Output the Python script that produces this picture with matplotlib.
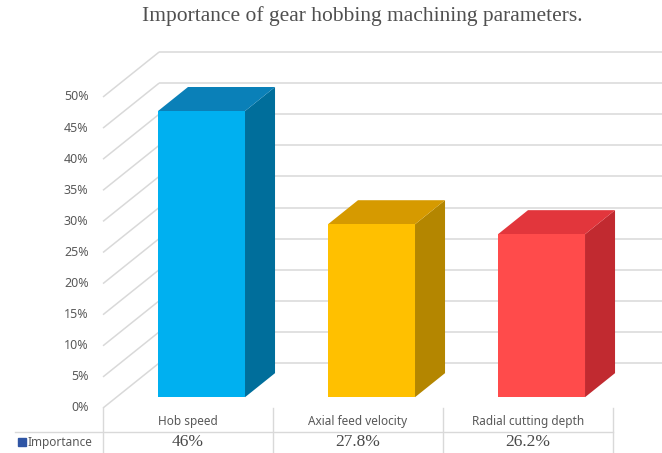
import matplotlib
matplotlib.use('Agg')
import matplotlib.pyplot as plt
from matplotlib.patches import Polygon

# ---------------- data ----------------
title = "Importance of gear hobbing machining parameters."
categories = ["Hob speed", "Axial feed velocity", "Radial cutting depth"]
importance = [46.0, 27.8, 26.2]
value_labels = ["46%", "27.8%", "26.2%"]
yticks = [0, 5, 10, 15, 20, 25, 30, 35, 40, 45, 50]
series_name = "Importance"

# ---------------- style ----------------
front_colors = ["#00B0F0", "#FFC000", "#FF4B4B"]
top_colors = ["#0A80B8", "#D69A00", "#E2363C"]
side_colors = ["#006E9B", "#B48600", "#C12A30"]
grid_color = "#D9D9D9"
text_gray = "#595959"

# pseudo-3D projection: depth d in [0, 1]
DX = 0.33   # horizontal shift of full depth (category units)
DY = 7.23   # vertical shift of full depth (percent units)


def P(x, v, d):
    return (x + DX * d, v + DY * d)


fig = plt.figure(figsize=(6.62, 4.53), dpi=100)
ax = fig.add_axes([0, 0, 1, 1])
ax.set_xlim(-1.106, 2.788)
ax.set_ylim(-7.235, 65.59)
ax.axis('off')

n = len(categories)
x_left = -0.5
x_right = n - 0.5

# walls gridlines
for v in yticks:
    a = P(x_left, v, 0)
    b = P(x_left, v, 1)
    c = P(x_right, v, 1)
    ax.plot([a[0], b[0]], [a[1], b[1]], color=grid_color, lw=1.1, zorder=1,
            solid_capstyle='butt')
    ax.plot([b[0], c[0]], [b[1], c[1]], color=grid_color, lw=1.1, zorder=1,
            solid_capstyle='butt')
    ax.text(x_left - 0.085, v, f"{v}%", ha='right', va='center',
            fontsize=9, color=text_gray, family='Noto Sans')

# bars
w = 0.512
d0, d1 = 0.24, 0.775
for i, v in enumerate(importance):
    cx = i
    l, r = cx - w / 2, cx + w / 2
    front = [P(l, 0, d0), P(r, 0, d0), P(r, v, d0), P(l, v, d0)]
    side = [P(r, 0, d0), P(r, 0, d1), P(r, v, d1), P(r, v, d0)]
    top = [P(l, v, d0), P(r, v, d0), P(r, v, d1), P(l, v, d1)]
    ax.add_patch(Polygon(side, closed=True, facecolor=side_colors[i],
                         edgecolor='none', zorder=3))
    ax.add_patch(Polygon(top, closed=True, facecolor=top_colors[i],
                         edgecolor='none', zorder=3))
    ax.add_patch(Polygon(front, closed=True, facecolor=front_colors[i],
                         edgecolor='none', zorder=4))

# data table
row1_y = -2.25
sep_y = -3.86
row2_y = -5.5
bottom = -7.3
for k in range(n + 1):
    xk = x_left + k
    ax.plot([xk, xk], [0, bottom], color=grid_color, lw=1.0, zorder=1)
ax.plot([-1.018, x_right], [sep_y, sep_y], color=grid_color, lw=1.0, zorder=1)

for i, (cat, lab) in enumerate(zip(categories, value_labels)):
    ax.text(i, row1_y, cat, ha='center', va='center', fontsize=8.5,
            color=text_gray, family='Noto Sans')
    ax.text(i, row2_y, lab, ha='center', va='center', fontsize=12.5,
            color="#4A4A4A", family='Liberation Serif')

ax.plot([-0.976], [row2_y], marker='s', markersize=5.5, color="#2F55A4",
        linestyle='none')
ax.text(-0.945, row2_y, series_name, ha='left', va='center', fontsize=8.5,
        color=text_gray, family='Noto Sans')

# title
ax.text(1.024, 63.0, title, ha='center', va='center', fontsize=15.5,
        color="#505050", family='Liberation Serif')

fig.savefig("out.png", dpi=100)
